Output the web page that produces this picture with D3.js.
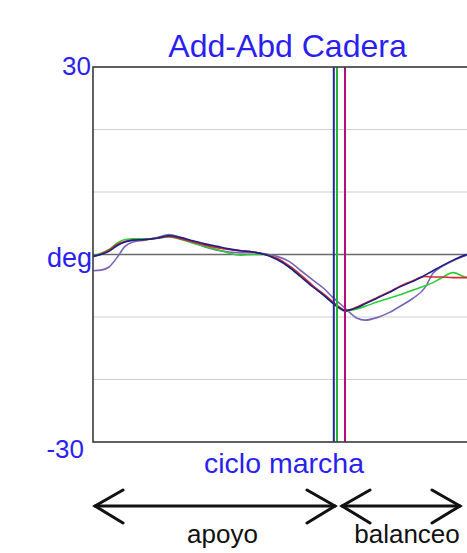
<!DOCTYPE html>
<html><head><meta charset="utf-8">
<script src="https://cdn.jsdelivr.net/npm/d3@7"></script>
<style>html,body{margin:0;padding:0;background:#fff;overflow:hidden}svg{display:block}</style>
</head><body>
<svg id="c" width="467" height="553"></svg>
<script>
const pct = [0,2,4,6,8,10,13,16,19,22,25,28,31,34,37,40,43,46,49,52,55,58,60,62,63,64,66,68,71,74,77,80,83,85,87,90,93,96,100];
const navy   = [-0.3,0.0,0.5,1.4,2.0,2.3,2.4,2.6,3.0,2.7,2.2,1.7,1.3,0.9,0.6,0.4,0.0,-0.8,-2.0,-3.6,-5.2,-6.7,-7.8,-8.7,-9.0,-8.9,-8.5,-7.9,-7.0,-6.1,-5.1,-4.3,-3.3,-2.6,-1.9,-0.9,-0.1,0.4,1.0];
const red    = [-0.3,0.1,0.7,1.6,2.1,2.3,2.4,2.6,2.9,2.5,2.0,1.5,1.1,0.8,0.6,0.4,0.0,-0.6,-1.8,-3.3,-5.0,-6.5,-7.6,-8.6,-9.0,-8.9,-8.4,-7.8,-6.9,-6.0,-5.0,-4.2,-3.5,-3.6,-3.6,-3.7,-3.7,-3.8,-3.9];
const green  = [-0.2,0.2,0.8,1.8,2.4,2.5,2.5,2.6,2.8,2.4,1.8,1.3,0.8,0.2,-0.1,0.0,0.0,-0.7,-2.0,-3.5,-5.1,-6.7,-7.8,-8.8,-9.1,-9.0,-8.7,-8.3,-7.6,-7.0,-6.4,-5.7,-5.0,-4.5,-3.8,-2.9,-3.6,-3.9,-4.0];
const purple = [-2.6,-2.5,-2.0,-0.5,1.3,2.0,2.3,2.7,3.2,2.7,2.0,1.2,0.7,0.4,0.3,0.3,0.1,-0.3,-1.1,-2.6,-4.1,-5.6,-6.9,-8.0,-8.6,-9.2,-10.2,-10.5,-10.1,-9.3,-8.2,-7.0,-5.3,-3.0,-2.0,-1.0,-0.2,0.4,1.0];
const eventPct = [60.2, 61, 63];
const eventColors = ["#1f2a8c", "#27b33a", "#b0107f"];
const yTicks = [-30,-20,-10,0,10,20,30];

const svg = d3.select("#c");
const x = d3.scaleLinear().domain([0,100]).range([93,493]);
const y = d3.scaleLinear().domain([-30,30]).range([442,67]);
const font = "'Liberation Sans', Arial, sans-serif";
const blue = "#2b1ff0";

// gridlines
svg.append("g").selectAll("line").data(yTicks.filter(d=>d!==30&&d!==-30)).join("line")
  .attr("x1",x(0)).attr("x2",x(100)).attr("y1",d=>y(d)).attr("y2",d=>y(d))
  .attr("stroke",d=>d===0?"#6a6a6a":"#cfcfcf").attr("stroke-width",d=>d===0?1.3:1.2);

// series
const line = d3.line().x((d,i)=>x(pct[i])).y(d=>y(d)).curve(d3.curveMonotoneX);
const series = [[purple,"#7766b8"],[green,"#2fcc3a"],[red,"#d42a2a"],[navy,"#1c1e86"]];
svg.append("g").selectAll("path").data(series).join("path")
  .attr("d",d=>line(d[0])).attr("fill","none").attr("stroke",d=>d[1]).attr("stroke-width",1.6);

// event lines
svg.append("g").selectAll("line").data(eventPct).join("line")
  .attr("x1",d=>x(d)).attr("x2",d=>x(d)).attr("y1",y(30)).attr("y2",y(-30))
  .attr("stroke",(d,i)=>eventColors[i]).attr("stroke-width",2);

// frame
svg.append("rect").attr("x",x(0)).attr("y",y(30)).attr("width",x(100)-x(0)).attr("height",y(-30)-y(30))
  .attr("fill","none").attr("stroke","#3a3a3a").attr("stroke-width",1.6);

// texts
svg.append("text").attr("x",287.5).attr("y",57).attr("text-anchor","middle")
  .attr("font-family",font).attr("font-size",32).attr("fill",blue).text("Add-Abd Cadera");
svg.append("text").attr("x",91).attr("y",75).attr("text-anchor","end")
  .attr("font-family",font).attr("font-size",26).attr("fill",blue).text(yTicks[6]);
svg.append("text").attr("x",84).attr("y",458).attr("text-anchor","end")
  .attr("font-family",font).attr("font-size",26).attr("fill",blue).text(yTicks[0]);
svg.append("text").attr("x",92).attr("y",267).attr("text-anchor","end")
  .attr("font-family",font).attr("font-size",27).attr("fill",blue).text("deg");
svg.append("text").attr("x",284).attr("y",473).attr("text-anchor","middle")
  .attr("font-family",font).attr("font-size",28.5).attr("fill",blue).text("ciclo marcha");

// phase arrows
const phases = [{name:"apoyo", a:95, b:335}, {name:"balanceo", a:342, b:460}];
const ay = 506;
const g = svg.append("g").attr("stroke","#111").attr("stroke-width",3).attr("fill","none").attr("stroke-linecap","round");
phases.forEach(p=>{
  g.append("line").attr("x1",p.a).attr("x2",p.b).attr("y1",ay).attr("y2",ay);
  g.append("path").attr("d",`M${p.a+28},${ay-16} L${p.a},${ay} L${p.a+28},${ay+17}`);
  g.append("path").attr("d",`M${p.b-28},${ay-16} L${p.b},${ay} L${p.b-28},${ay+17}`);
});
svg.append("text").attr("x",222.5).attr("y",543).attr("text-anchor","middle")
  .attr("font-family",font).attr("font-size",26).attr("fill","#111").text("apoyo");
svg.append("text").attr("x",407).attr("y",543).attr("text-anchor","middle")
  .attr("font-family",font).attr("font-size",26).attr("fill","#111").text("balanceo");
</script>
</body></html>
